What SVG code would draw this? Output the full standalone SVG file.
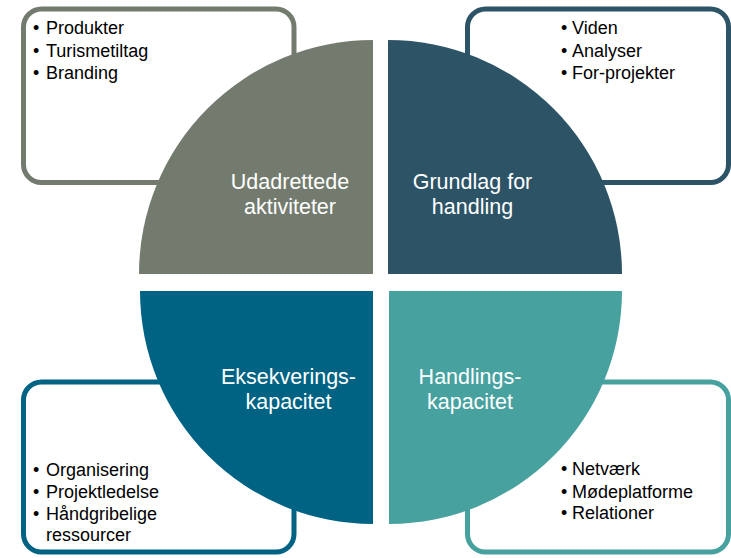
<svg xmlns="http://www.w3.org/2000/svg" width="731" height="558" viewBox="0 0 731 558">
  <style>
    .box { fill: #ffffff; stroke-width: 5; }
    .q { stroke: none; }
    .lbl { font-family: "Liberation Sans", Arial, sans-serif; font-size: 21.5px; fill: #ffffff; text-anchor: middle; }
    .item { font-family: "Liberation Sans", Arial, sans-serif; font-size: 18px; fill: #000000; }
    .c1 { fill: #737B6E; } .s1 { stroke: #737B6E; }
    .c2 { fill: #2D5366; } .s2 { stroke: #2D5366; }
    .c3 { fill: #006384; } .s3 { stroke: #006384; }
    .c4 { fill: #46A19F; } .s4 { stroke: #46A19F; }
  </style>
  <rect width="731" height="558" fill="#ffffff"/>
  <g id="connectors"/>
  <g id="node-udadrettede">
    <rect class="box s1" x="23.5" y="9" width="270.5" height="173.5" rx="18"/>
    <path class="q c1" d="M373,274 L139,274 A234,234 0 0 1 373,40 Z"/>
    <text class="lbl" x="290" y="189">Udadrettede</text>
    <text class="lbl" x="290" y="214">aktiviteter</text>
    <text class="item" x="33" y="34">•</text><text class="item" x="46" y="34">Produkter</text>
    <text class="item" x="33" y="56.5">•</text><text class="item" x="46" y="56.5">Turismetiltag</text>
    <text class="item" x="33" y="79">•</text><text class="item" x="46" y="79">Branding</text>
  </g>
  <g id="node-grundlag">
    <rect class="box s2" x="467.5" y="9" width="261" height="173.5" rx="18"/>
    <path class="q c2" d="M388,274 L388,40 A234,234 0 0 1 622,274 Z"/>
    <text class="lbl" x="472.5" y="189">Grundlag for</text>
    <text class="lbl" x="472.5" y="214">handling</text>
    <text class="item" x="561" y="34">•</text><text class="item" x="572" y="34">Viden</text>
    <text class="item" x="561" y="56.5">•</text><text class="item" x="572" y="56.5">Analyser</text>
    <text class="item" x="561" y="79">•</text><text class="item" x="572" y="79">For-projekter</text>
  </g>
  <g id="node-eksekvering">
    <rect class="box s3" x="23.5" y="382" width="270.5" height="170" rx="18"/>
    <path class="q c3" d="M373,291 L373,524 A233,233 0 0 1 140,291 Z"/>
    <text class="lbl" x="288.5" y="384">Eksekverings-</text>
    <text class="lbl" x="288.5" y="409">kapacitet</text>
    <text class="item" x="33" y="476">•</text><text class="item" x="46" y="476">Organisering</text>
    <text class="item" x="33" y="498">•</text><text class="item" x="46" y="498">Projektledelse</text>
    <text class="item" x="33" y="520">•</text><text class="item" x="46" y="520">Håndgribelige</text>
    <text class="item" x="46" y="541">ressourcer</text>
  </g>
  <g id="node-handling">
    <rect class="box s4" x="467.5" y="382" width="261" height="170" rx="18"/>
    <path class="q c4" d="M389,291 L622,291 A233,233 0 0 1 389,524 Z"/>
    <text class="lbl" x="470" y="384">Handlings-</text>
    <text class="lbl" x="470" y="409">kapacitet</text>
    <text class="item" x="561" y="475">•</text><text class="item" x="572" y="475">Netværk</text>
    <text class="item" x="561" y="497.5">•</text><text class="item" x="572" y="497.5">Mødeplatforme</text>
    <text class="item" x="561" y="519">•</text><text class="item" x="572" y="519">Relationer</text>
  </g>
</svg>
